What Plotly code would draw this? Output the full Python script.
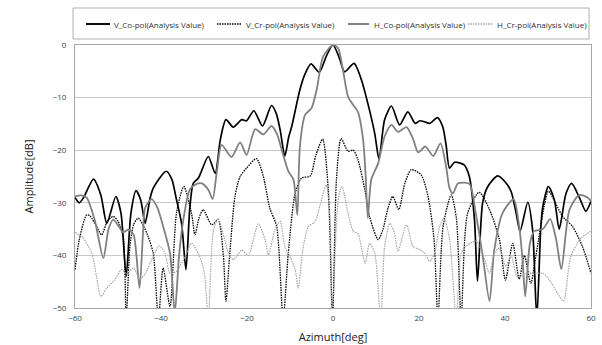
import plotly.graph_objects as go

# ---- data ----
v_co_x = [-60, -59, -58, -55.7, -54, -52.6, -50.5, -49.3, -48.1, -47, -45.8, -44.7, -43.7, -42.5, -41.8,
          -38.8, -37.5, -36.4, -35.2, -34.2, -33.3, -32.5, -31.3, -30.6, -29.0, -27.4, -26.2, -24.9, -23.2,
          -21.2, -20.1, -18.4, -16.4, -14.3, -13.2, -12.3, -11.2, -10.3, -9.6, -7.7, -6.5, -5.1, -3.2, -1.5,
          0, 1.5, 2.7, 4.9, 6.6, 8.1, 9.7, 10.7, 12.0, 13.6, 15.5, 17.4, 19.1, 20.2, 21.3, 22.5, 24.3, 25.5,
          26.3, 27.1, 28.3, 30.5, 31.7, 32.9, 33.6, 34.8, 36.0, 38.3, 40.0, 41.4, 42.6, 43.5, 45.3, 46.4,
          47.4, 48.3, 48.8, 50.1, 51.5, 52.6, 54.2, 55.5, 57.3, 58.8, 60]
v_co_y = [-29.0, -30.0, -29.0, -25.5, -28.5, -33.9, -28.8, -32, -44, -32, -27.7, -29.5, -33.9, -29, -27.2,
          -24.0, -25.5, -29.4, -34, -42.7, -31, -26.3, -25.3, -24.0, -21.2, -24.4, -18, -14.2, -15.6,
          -14.2, -14.4, -12.5, -15.4, -11.5, -13, -16.1, -21.1, -17.5, -15.5, -8.5, -5.5, -3.6, -5.2, -2,
          0, -2.5, -5.1, -3.5, -6.6, -11.1, -16.8, -21.7, -14.2, -11.6, -15.2, -12.7, -14.9, -14.4, -14.6, -14.9,
          -13.8, -15.5, -19, -23.4, -22.3, -22.8, -25, -33.2, -44.9, -30, -26.9, -24.9, -26, -27.8, -32, -35.4,
          -29.9, -35, -52, -35, -30.7, -26.9, -29.5, -35, -28.2, -26.3, -29, -31.6, -29.7]

v_cr_x = [-60, -59, -57.3, -56.5, -55, -53.8, -52.5, -51.1, -50, -48.8, -48.1, -47.2, -46.3, -45.3, -44,
          -43.0, -41.8, -40.6, -39.5, -37.9, -36.4, -34.7, -32.9, -32.1, -31.2, -30.2, -28.2, -26.7, -25.5,
          -24.9, -24.0, -22.8, -21.6, -20.1, -17.8, -16.2, -14.7, -13.1, -11.6, -10.4, -8.8, -7.3, -5.3, -4,
          -2.4, -1.1, -0.1, 0.8, 1.9, 3.5, 4.7, 5.8, 7.4, 8.5, 10.5, 11.6, 12.8, 13.9, 15.3, 16.7, 18.2, 20.5,
          22.1, 23.5, 24.4, 25.6, 27.5, 28.7, 29.8, 31.3, 34, 36.4, 38.7, 40.1, 41.8, 43.3, 44.5, 46.0, 47.2,
          49.1, 50.1, 53.4, 55.7, 58, 60]
v_cr_y = [-42.7, -37, -32.3, -32.5, -34.5, -36.1, -33.5, -32.6, -33.5, -36.4, -52, -38, -34, -32.9, -34.5,
          -36.4, -39.6, -52, -42.4, -49.7, -32, -26.9, -32, -36.1, -33, -31.3, -34.2, -33.2, -40,
          -48.7, -39.6, -28.8, -25, -23.4, -21.6, -25, -31, -34.5, -52, -39.6, -28.2, -25.3, -24.9, -21,
          -17.9, -27.5, -52, -25.6, -17.8, -20.2, -20, -21.8, -27.5, -32.6, -37, -35.1, -31, -28.8, -31.3, -26.3,
          -23.7, -24.7, -28.8, -37, -52, -34.5, -28.5, -33, -52, -32, -28, -31.3, -37, -44.7, -37.7, -44.5,
          -40, -45.3, -40, -30.7, -27.8, -32.6, -34.5, -38.3, -43.4]

h_co_x = [-60, -58.5, -57.3, -55.5, -53.4, -52.2, -51.1, -49.8, -48.8, -47.6, -46.4, -45.0, -44.2, -43.7,
          -42.2, -40.8, -39.5, -37.9, -36.8, -35.8, -34.8, -33.3, -31.7, -30.5, -29.0, -28.0, -27, -25.9,
          -23.6, -21.6, -20.1, -18.1, -16.2, -14.3, -13, -11.9, -10.4, -9.2, -8.3, -7.7, -6.5, -5.0, -3.8,
          -2.3, 0, 1.2, 2.3, 3.5, 4.7, 5.8, 7.0, 7.6, 8.1, 8.9, 10.5, 12, 13.6, 15.1, 17.1, 18.6, 19.8, 21.5,
          23.3, 25, 26.3, 27.1, 27.9, 29.1, 31.7, 33.2, 34.8, 36.4, 37.5, 39.4, 42, 43.3, 44.1, 44.7, 45.8,
          46.8, 48.8, 50.5, 51.9, 53.1, 55, 57.3, 59.2, 60]
h_co_y = [-28.8, -28.6, -29, -33, -40.5, -35, -33.2, -34.5, -35.6, -35.1, -36, -46.2, -36, -31,
          -29.3, -31, -34.5, -39.6, -51, -40, -33.2, -27.5, -26.4, -26.3, -27.5, -29.3, -24, -19,
          -21.3, -18.5, -20.9, -16.0, -17, -15.4, -17, -20, -24, -25.6, -32.3, -19.3, -13.3, -12, -8.5,
          -2.2, 0, -0.6, -4.7, -9.8, -11.4, -12.7, -18, -25, -32.9, -25.6, -22.5, -17.4, -15.2, -16.5, -15.6,
          -17.8, -20.4, -19.3, -21.1, -18.7, -23.1, -27.2, -28.2, -26.3, -26.4, -32, -40, -48.7, -39, -32,
          -29.3, -34.5, -41, -47.8, -37.7, -35.4, -35, -33.1, -37, -42.6, -31.3, -28.5, -29, -29.7]

h_cr_x = [-60, -58.1, -56.1, -55, -54, -52.6, -50.7, -49.2, -48, -46.4, -44.9, -43.7, -41.8, -40.4, -39.1,
          -37.9, -36.4, -34.4, -32.9, -31.3, -30.3, -29.8, -29, -27.8, -26.7, -25.5, -24.3, -23.2, -21.2,
          -19.7, -17.4, -15.8, -15, -13.5, -12.3, -11.2, -10, -8.8, -8.1, -6.9, -5.7, -4.2, -3, -1.6, -0.7,
          -0.2, 1.2, 2.1, 3.5, 4.7, 5.8, 7.0, 7.5, 8.5, 9.7, 11.1, 12, 13.2, 14.3, 15.1, 17.1, 18.6, 20.2,
          21.3, 22.5, 23.6, 24.8, 25.8, 27.1, 28.7, 29.8, 30.8, 33.3, 34.8, 36.4, 37.5, 38.7, 40.2, 41.4,
          42.9, 44.9, 47.2, 48.8, 50.3, 52.2, 53.6, 55.3, 57.7, 60]
h_cr_y = [-35.6, -36.7, -39.6, -44, -47.8, -46.2, -44.6, -42.7, -43.5, -42.4, -44.5, -43.5, -40.2, -38.2,
          -39.5, -43.4, -43, -40.2, -37.7, -39.6, -42, -44, -52, -35.1, -33, -36, -39.6, -40.8, -39,
          -40, -34, -37, -39.9, -35.1, -33.5, -38.3, -40.2, -42.7, -46.2, -38.3, -34.5, -33.6, -30.4, -26.6,
          -32.6, -52, -29.5, -26.9, -32, -35.4, -35.9, -40.2, -41.5, -37.7, -39.6, -52, -38.3, -33.9, -35.8,
          -39.2, -34.2, -38.3, -38.9, -39.6, -41.1, -39.6, -34.5, -32.9, -37, -52, -39.6, -38.3, -37.3,
          -39.6, -43.4, -39.6, -38.6, -42.1, -40, -44.1, -43.4, -43.4, -43.4, -44.6, -47.2, -48.7, -40.2,
          -36.7, -35.4]

x_ticks = [-60, -40, -20, 0, 20, 40, 60]
y_ticks = [0, -10, -20, -30, -40, -50]

names = ["V_Co-pol(Analysis Value)", "V_Cr-pol(Analysis Value)",
         "H_Co-pol(Analysis Value)", "H_Cr-pol(Analysis Value)"]

# styles per series
colors = ["#000000", "#000000", "#808080", "#a6a6a6"]
widths = [1.7, 1.3, 1.8, 1.2]
dashes = ["solid", "1.5px,1px", "solid", "1.5px,1px"]
xs = [v_co_x, v_cr_x, h_co_x, h_cr_x]
ys = [v_co_y, v_cr_y, h_co_y, h_cr_y]

fig = go.Figure()
for i in range(4):
    fig.add_trace(go.Scatter(x=xs[i], y=ys[i], name=names[i], mode="lines", showlegend=False,
                             line=dict(color=colors[i], width=widths[i], dash=dashes[i],
                                       shape="spline", smoothing=0.7)))

# manual legend (plot area spans 75..591 px horizontally, 45..308 px vertically)
L, W, T, H = 75.0, 516.0, 45.0, 263.0
def px(x):
    return (x - L) / W
def py(y):
    return (T + H - y) / H

legend_line_x = [(86, 110), (217, 242), (348, 369), (468, 492)]
legend_text_x = [112, 244, 372, 495]
legend_y = 24

shapes = [dict(type="rect", xref="paper", yref="paper", x0=px(73), x1=px(589), y0=py(39), y1=py(8),
               line=dict(color="#b0b0b0", width=1), fillcolor="rgba(0,0,0,0)", layer="above")]
annotations = []
for i in range(4):
    x0, x1 = legend_line_x[i]
    shapes.append(dict(type="line", xref="paper", yref="paper", x0=px(x0), x1=px(x1),
                       y0=py(legend_y), y1=py(legend_y),
                       line=dict(color=colors[i], width=widths[i] + 0.2, dash=dashes[i])))
    annotations.append(dict(text=names[i], xref="paper", yref="paper", x=px(legend_text_x[i]),
                            y=py(legend_y), xanchor="left", yanchor="middle", showarrow=False,
                            font=dict(size=8, color="#303030")))

fig.update_layout(
    width=602, height=345,
    margin=dict(l=75, r=11, t=45, b=37, autoexpand=False),
    paper_bgcolor="white", plot_bgcolor="white",
    font=dict(family="Open Sans, Liberation Sans, sans-serif", color="#404040", size=8),
    showlegend=False,
    shapes=shapes, annotations=annotations,
)
fig.update_xaxes(range=[-60, 60], tickvals=x_ticks, showgrid=False, zeroline=False,
                 showline=True, linecolor="#a6a6a6", linewidth=1, mirror=True,
                 tickfont=dict(size=8, color="#404040"), ticks="", ticklabelstandoff=2,
                 title=dict(text="Azimuth[deg]", font=dict(size=11, color="#202020"), standoff=11))
fig.update_yaxes(range=[-50, 0], tickvals=y_ticks, showgrid=True, gridcolor="#c8c8c8", gridwidth=1,
                 zeroline=False, showline=True, linecolor="#a6a6a6", linewidth=1, mirror=True,
                 tickfont=dict(size=8, color="#404040"), ticks="", ticklabelstandoff=6,
                 title=dict(text="Amplitude[dB]", font=dict(size=11, color="#202020"), standoff=16))

fig.write_html("out.html", config={"displayModeBar": False},
               post_script="document.body.style.margin='0';")
